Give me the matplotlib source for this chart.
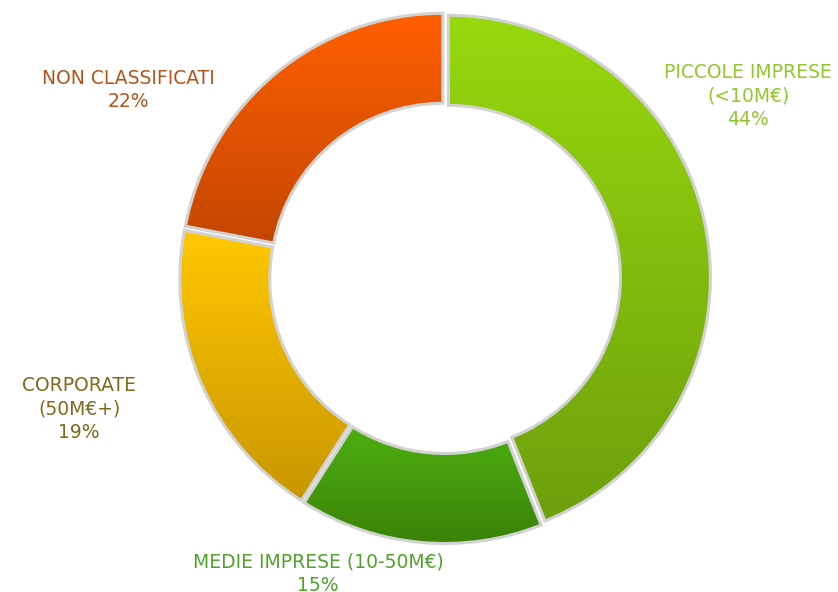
import numpy as np
import matplotlib
matplotlib.use('Agg')
import matplotlib.pyplot as plt
from matplotlib.colors import to_rgb

# dati
categorie = ['PICCOLE IMPRESE\n(<10M€)', 'MEDIE IMPRESE (10-50M€)', 'CORPORATE\n(50M€+)', 'NON CLASSIFICATI']
quote = [44, 15, 19, 22]
colori_alto = ['#97d80e', '#4cb010', '#ffc800', '#ff6000']
colori_basso = ['#6e9f0c', '#3a8208', '#c89600', '#c44600']
colori_testo = ['#8fc92c', '#4fa32a', '#7f6a1e', '#b5541a']

W, H = 838, 592
fig = plt.figure(figsize=(W / 100, H / 100), dpi=100)
ax = fig.add_axes([0, 0, 1, 1])

cx, cy = 445, H - 278
R = 262

# explode in pixel (pie non lo scala col raggio)
wedges, _ = ax.pie(quote, radius=R, center=(cx, cy), startangle=90, counterclock=False,
                   explode=[3.5] * 4,
                   wedgeprops=dict(width=90, facecolor='none', edgecolor='#d2d2d2', linewidth=2.2))

for w, c1, c2 in zip(wedges, colori_alto, colori_basso):
    ext = w.get_path().get_extents()
    t = np.linspace(0, 1, 256)[:, None, None]
    grad = np.array(to_rgb(c2))[None, None, :] * (1 - t) + np.array(to_rgb(c1))[None, None, :] * t
    im = ax.imshow(grad, extent=(ext.x0, ext.x1, ext.y0, ext.y1), origin='lower',
                   aspect='auto', zorder=1, interpolation='bilinear')
    im.set_clip_path(w)
    w.set_zorder(2)

# etichette (posizione in pixel)
pos_etichette = [(748, 96), (318, 574), (79, 409), (128, 90)]
for testo, q, (px, py), col in zip(categorie, quote, pos_etichette, colori_testo):
    ax.text(px, H - py, f'{testo}\n{q}%', ha='center', va='center', color=col,
            fontsize=13.5, linespacing=1.3, family='DejaVu Sans')

ax.set_xlim(0, W)
ax.set_ylim(0, H)
ax.set_aspect('equal')
ax.axis('off')
fig.savefig('out.png', dpi=100)
